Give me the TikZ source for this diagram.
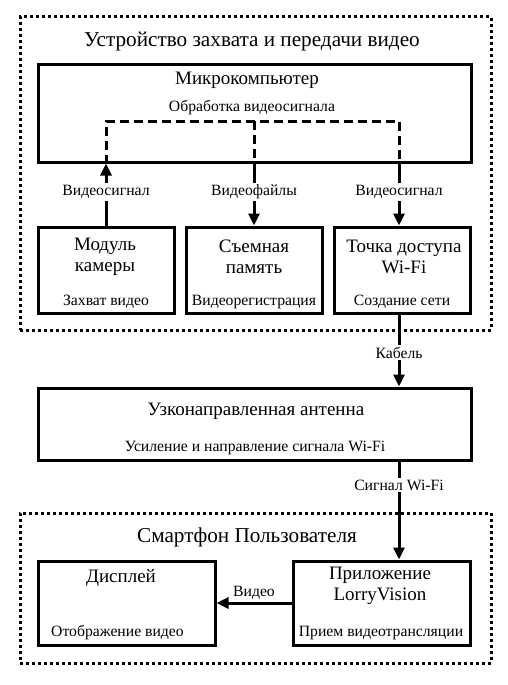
\documentclass[tikz,border=0pt]{standalone}
\usepackage{fontspec}
\setmainfont{Liberation Serif}
\usetikzlibrary{arrows.meta}

\begin{document}
\begin{tikzpicture}[x=1pt, y=-1pt,
    box/.style={draw, line width=3pt, inner sep=0pt},
    group/.style={draw, line width=3pt, dash pattern=on 3pt off 3pt, inner sep=0pt},
    big/.style={font=\fontsize{21.2}{24}\selectfont},
    boxtitle/.style={font=\fontsize{19}{20.5}\selectfont, align=center, inner sep=0pt},
    small/.style={font=\fontsize{15.7}{17}\selectfont, inner sep=1pt},
    tag/.style={font=\fontsize{15.7}{17}\selectfont, fill=white, inner sep=2pt},
    arr/.style={line width=3pt, -{Triangle[width=11pt,length=12pt]}},
    bus/.style={line width=3pt, dash pattern=on 9pt off 5pt}]
    \useasboundingbox (0,0) rectangle (508,685);

    % video capture device
    \node[group, minimum width=471pt, minimum height=313pt] (dev) at (255.5,173.5) {};
    \node[big] (devt) at (252,42) {Устройство захвата и передачи видео};

    \node[box, minimum width=433pt, minimum height=97pt] (mc) at (254.5,113.5) {};
    \node[boxtitle] (mct) at (247,80) {Микрокомпьютер};
    \node[small] (mcs) at (252,108) {Обработка видеосигнала};

    \node[box, minimum width=136pt, minimum height=86pt] (cam) at (106,270) {};
    \node[boxtitle] (camt) at (105,257) {Модуль\\камеры};
    \node[small] (cams) at (106,302) {Захват видео};

    \node[box, minimum width=136pt, minimum height=86pt] (mem) at (254,270) {};
    \node[boxtitle] (memt) at (254,257) {Съемная\\память};
    \node[small] (mems) at (254,302) {Видеорегистрация};

    \node[box, minimum width=136pt, minimum height=86pt] (ap) at (402,270) {};
    \node[boxtitle] (apt) at (404,257) {Точка доступа\\Wi-Fi};
    \node[small] (aps) at (402,302) {Создание сети};

    % antenna
    \node[box, minimum width=433pt, minimum height=72pt] (ant) at (254.5,424) {};
    \node[boxtitle] (antt) at (256,411) {Узконаправленная антенна};
    \node[small] (ants) at (255,448) {Усиление и направление сигнала Wi-Fi};

    % smartphone
    \node[group, minimum width=471pt, minimum height=150pt] (phone) at (255.5,588) {};
    \node[big] (phonet) at (247,537) {Смартфон Пользователя};

    \node[box, minimum width=177pt, minimum height=84pt] (disp) at (126.5,603) {};
    \node[boxtitle] (dispt) at (121,578) {Дисплей};
    \node[small] (disps) at (117.5,633) {Отображение видео};

    \node[box, minimum width=177pt, minimum height=84pt] (app) at (381.5,603) {};
    \node[boxtitle] (appt) at (380,586) {Приложение\\LorryVision};
    \node[small] (apps) at (381,633) {Прием видеотрансляции};

    % signal bus inside the microcomputer
    \coordinate (busL) at (106,121);
    \coordinate (busR) at (399,121);
    \draw[bus] (cam.north |- mc.south) -- (busL) -- (busR) -- (busR |- mc.south);
    \draw[bus] (mem.north |- busL) -- (mem.north |- mc.south);

    % connectors
    \draw[arr] (cam.north) -- (cam.north |- mc.south)
        node[tag, pos=0.54] {Видеосигнал};
    \draw[arr] (mem.north |- mc.south) -- (mem.north)
        node[tag, pos=0.46] {Видеофайлы};
    \draw[arr] (busR |- mc.south) -- (busR |- ap.north)
        node[tag, pos=0.46] {Видеосигнал};
    \draw[arr] (busR |- ap.south) -- (busR |- ant.north)
        node[tag, pos=0.53] {Кабель};
    \draw[arr] (busR |- ant.south) -- (busR |- app.north)
        node[tag, pos=0.24] {Сигнал Wi-Fi};
    \draw[arr] (app.west) -- (disp.east)
        node[small, pos=0.5, above=1pt] {Видео};
\end{tikzpicture}
\end{document}
